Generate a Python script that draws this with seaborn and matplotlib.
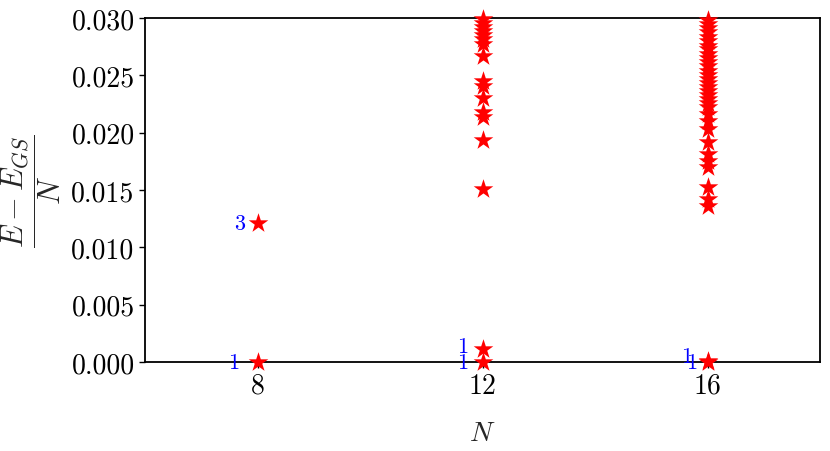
import matplotlib
matplotlib.use("Agg")
import matplotlib.pyplot as plt
import seaborn as sns
import pandas as pd

# data
n8 = [0.0, 0.0121]
n12 = [0.0, 0.0011, 0.0151, 0.0194, 0.0214, 0.0218, 0.0230, 0.0241, 0.0245,
       0.0267, 0.0277, 0.0282, 0.0285, 0.0289, 0.0292, 0.0296, 0.0299]
n16 = [0.0, 0.0001, 0.0136, 0.0142, 0.0153, 0.0170, 0.0175, 0.0181, 0.0192,
       0.0203, 0.0210, 0.0216, 0.0222, 0.0226, 0.0229, 0.0233, 0.0236, 0.0240,
       0.0243, 0.0247, 0.0250, 0.0254, 0.0258, 0.0262, 0.0265, 0.0269, 0.0273,
       0.0276, 0.0280, 0.0283, 0.0288, 0.0291, 0.0295, 0.0298]
label_x = [7.68, 7.57, 11.64, 11.64, 15.63, 15.72]
label_y = [0.0121, 0.0, 0.0014, 0.0, 0.0005, 0.0]
label_txt = ["3", "1", "1", "1", "1", "1"]
xticks = [8, 12, 16]
yticks = [0.000, 0.005, 0.010, 0.015, 0.020, 0.025, 0.030]

rows = [(8, v) for v in n8] + [(12, v) for v in n12] + [(16, v) for v in n16]
df = pd.DataFrame(rows, columns=["N", "E"])

sns.set_style("white")
plt.rcParams["font.family"] = ["cmr10", "DejaVu Serif"]
plt.rcParams["mathtext.fontset"] = "cm"
plt.rcParams["axes.formatter.use_mathtext"] = True

fig = plt.figure(figsize=(8.3, 4.52), dpi=100)
ax = fig.add_axes([145 / 830, 1 - 363 / 452, 675 / 830, 344 / 452])

sns.scatterplot(data=df, x="N", y="E", marker="*", s=220, color="red",
                linewidth=0, ax=ax, clip_on=False, zorder=3)

for x, y, t in zip(label_x, label_y, label_txt):
    ax.text(x, y, t, color="blue", fontsize=16, ha="center", va="center")

ax.set_xlim(6, 18)
ax.set_ylim(0, 0.030)
ax.set_xticks(xticks)
ax.set_xticklabels([str(t) for t in xticks])
ax.set_yticks(yticks)
ax.set_yticklabels([f"{t:.3f}" for t in yticks])
ax.tick_params(axis="both", labelsize=20, direction="out", length=4, width=1,
               left=True, bottom=True, colors="black")
for s in ax.spines.values():
    s.set_color("black")
    s.set_linewidth(1.3)

ax.set_xlabel(r"$N$", fontsize=20, labelpad=15)
ax.set_ylabel(r"$\dfrac{E-E_{GS}}{N}$", fontsize=22, labelpad=6)

fig.savefig("out.png", dpi=100)
